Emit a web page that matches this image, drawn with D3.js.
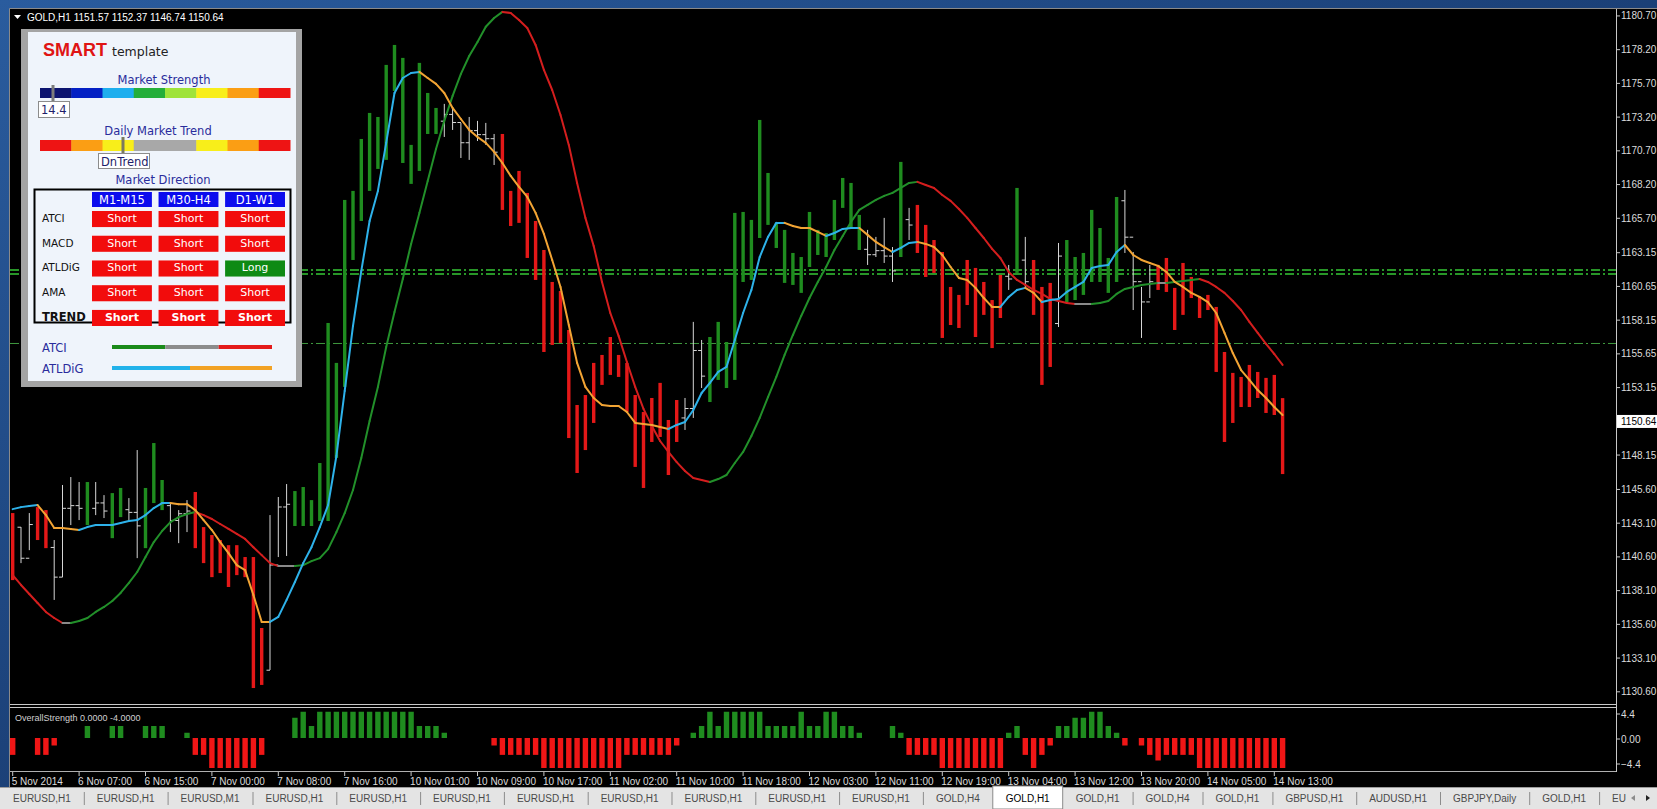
<!DOCTYPE html>
<meta charset="utf-8">
<style type="text/css">
    body { margin: 0; background: #000; overflow: hidden; }
    svg { display: block; }
    text { font-family: "Liberation Sans", Arial, sans-serif; }
    .panel text { font-family: "DejaVu Sans", Verdana, sans-serif; }
</style>
<body>
<script src="https://cdn.jsdelivr.net/npm/d3@7/dist/d3.min.js"></script>
<script>
// ---- price bars (GOLD H1), one entry per bar ----
var barHigh = [
    1143.85, 1142.81, 1143.85, 1144.29, 1144.07, 1141.85, 1145.93, 1146.52, 1146.15, 1146.15,
    1146.15, 1145.18, 1145.33, 1145.71, 1144.96, 1148.52, 1145.71, 1149.04, 1146.30, 1144.66,
    1144.07, 1144.81, 1145.41, 1142.81, 1142.22, 1141.85, 1141.47, 1141.47, 1140.59, 1140.59,
    1135.33, 1143.70, 1145.04, 1146.00, 1145.48, 1145.78, 1144.81, 1147.56, 1157.94, 1154.98,
    1167.06, 1167.73, 1171.58, 1173.51, 1173.21, 1177.07, 1178.55, 1177.59, 1171.14, 1177.22,
    1174.99, 1173.88, 1174.18, 1173.88, 1172.77, 1173.21, 1172.92, 1172.77, 1171.95, 1171.95,
    1167.73, 1169.21, 1167.58, 1165.50, 1163.35, 1160.98, 1160.31, 1157.42, 1151.86, 1152.60,
    1154.98, 1155.57, 1156.90, 1155.57, 1154.98, 1152.60, 1151.34, 1152.38, 1153.50, 1150.75,
    1152.23, 1152.38, 1158.02, 1156.68, 1156.90, 1158.02, 1156.53, 1166.10, 1166.17, 1165.58,
    1172.99, 1169.06, 1165.36, 1164.84, 1163.13, 1162.83, 1166.17, 1164.84, 1164.61, 1167.06,
    1168.69, 1168.32, 1165.95, 1164.84, 1164.32, 1165.73, 1163.57, 1169.88, 1166.47, 1166.69,
    1165.21, 1164.09, 1163.20, 1160.61, 1160.02, 1162.61, 1162.02, 1160.98, 1159.64, 1161.50,
    1162.24, 1167.95, 1164.32, 1162.61, 1160.61, 1160.91, 1163.87, 1164.09, 1162.83, 1163.13,
    1166.32, 1164.98, 1162.76, 1167.28, 1167.80, 1163.20, 1160.61, 1162.24, 1162.24, 1162.76,
    1160.54, 1162.39, 1161.35, 1159.87, 1160.02, 1159.13, 1155.79, 1154.24, 1153.94, 1154.83,
    1154.31, 1153.87, 1154.09, 1152.37
];
var barLow = [
    1138.88, 1140.14, 1141.10, 1141.85, 1141.25, 1137.41, 1139.10, 1142.96, 1143.33, 1142.96,
    1143.70, 1143.48, 1141.99, 1143.55, 1143.33, 1140.51, 1141.25, 1144.59, 1144.07, 1142.44,
    1141.62, 1142.44, 1141.25, 1140.14, 1139.10, 1139.40, 1138.37, 1139.25, 1139.10, 1130.88,
    1131.11, 1132.22, 1140.59, 1140.67, 1142.89, 1142.89, 1142.89, 1143.26, 1143.26, 1147.93,
    1153.20, 1162.61, 1165.50, 1167.73, 1169.36, 1170.03, 1175.14, 1169.80, 1168.25, 1169.21,
    1171.95, 1171.95, 1171.73, 1172.25, 1170.17, 1170.03, 1171.43, 1171.14, 1169.65, 1166.32,
    1165.13, 1165.36, 1162.76, 1161.13, 1155.79, 1156.31, 1156.46, 1149.41, 1146.82, 1148.52,
    1150.53, 1153.35, 1154.09, 1153.94, 1151.34, 1147.27, 1145.71, 1149.12, 1149.49, 1146.67,
    1149.12, 1150.01, 1150.90, 1153.12, 1152.08, 1153.72, 1153.12, 1153.72, 1160.98, 1161.13,
    1164.24, 1165.21, 1163.50, 1160.91, 1160.76, 1160.17, 1162.09, 1162.98, 1162.83, 1164.09,
    1166.47, 1164.98, 1163.35, 1162.24, 1162.83, 1162.39, 1160.98, 1162.83, 1164.09, 1163.13,
    1161.35, 1161.65, 1156.83, 1157.79, 1157.57, 1159.27, 1156.90, 1158.54, 1156.08, 1158.31,
    1160.39, 1161.65, 1160.61, 1158.54, 1153.35, 1154.68, 1157.64, 1159.49, 1159.64, 1160.02,
    1160.98, 1160.98, 1160.17, 1160.98, 1163.13, 1158.90, 1156.83, 1159.79, 1160.39, 1160.24,
    1157.42, 1158.54, 1159.79, 1158.31, 1158.90, 1154.31, 1149.12, 1150.53, 1151.71, 1151.71,
    1152.38, 1151.27, 1151.12, 1146.74
];
// G = green histogram bar, R = red histogram bar, W = plain white OHLC bar
var barColor = ("RWWRRWWWWGWWGGWWGGGWWW" + "RRRRRRRRR" + "WWW" + "GGGGGGGGGGGGGGGGGG" +
    "WWWWWWW" + "RRRRRRRRRRRRRRRRRRRRRR" + "WWW" + "GGGGGGGGGGGGGGGGGGG" + "WWWW" + "G" + "W" +
    "RRRRRRRRRRR" + "W" + "G" + "W" + "RRR" + "W" + "GGGGGGG" + "WWWW" + "RRRRRRRRRRRRRRRR").split("");

// open / close ticks of the white bars
var whiteIdx   = [1, 2, 5, 6, 7, 8, 10, 11, 14, 15, 19, 20, 21, 31, 32, 33, 52, 53, 54, 55, 56, 57, 58,
                  81, 82, 83, 103, 104, 105, 106, 108, 120, 122, 126, 134, 135, 136, 137];
var whiteOpen  = [1142.8, 1140.5, 1141.3, 1139.1, 1144.2, 1144.4, 1144.2, 1144.6, 1144.1, 1143.9, 1144.4, 1143.3, 1143.8,
                  1132.2, 1140.0, 1144.3, 1172.9, 1173.4, 1172.8, 1171.3, 1172.2, 1171.9, 1171.6,
                  1150.9, 1151.6, 1155.9, 1163.4, 1163.0, 1163.3, 1162.9, 1165.6, 1161.4, 1162.6, 1157.9,
                  1167.0, 1164.3, 1161.0, 1159.5];
var whiteClose = [1140.5, 1143.0, 1139.1, 1144.2, 1144.4, 1144.2, 1144.6, 1144.0, 1143.9, 1142.9, 1143.3, 1143.8, 1144.0,
                  1140.0, 1144.3, 1144.5, 1173.4, 1172.8, 1171.3, 1172.2, 1171.9, 1171.6, 1170.6,
                  1151.6, 1155.9, 1154.0, 1163.0, 1163.3, 1162.9, 1161.8, 1165.2, 1161.2, 1161.0, 1162.9,
                  1164.3, 1161.0, 1159.5, 1161.0];

// fast moving average (blue up / orange down)
var fastMA = [
    1144.14, 1144.29, 1144.37, 1144.44, 1143.70, 1142.74, 1142.74, 1142.67, 1142.59, 1142.81,
    1142.96, 1142.96, 1142.96, 1143.11, 1143.26, 1143.33, 1143.70, 1144.22, 1144.59, 1144.59,
    1144.51, 1144.51, 1144.07, 1143.33, 1142.59, 1141.70, 1140.88, 1139.99, 1139.62, 1137.78,
    1135.78, 1135.78, 1136.15, 1137.41, 1138.74, 1140.14, 1141.32, 1142.81, 1144.44, 1148.08,
    1152.90, 1157.72, 1161.80, 1165.50, 1167.73, 1171.29, 1174.99, 1176.10, 1176.47, 1176.55,
    1176.10, 1175.66, 1174.99, 1173.88, 1173.06, 1172.25, 1171.73, 1171.29, 1170.62, 1169.80,
    1168.84, 1168.03, 1167.28, 1166.10, 1164.54, 1162.61, 1160.61, 1157.79, 1154.98, 1153.20,
    1152.38, 1151.86, 1151.79, 1151.79, 1151.34, 1150.53, 1150.45, 1150.38, 1150.23, 1150.08,
    1150.38, 1150.60, 1151.49, 1152.75, 1153.50, 1154.31, 1154.68, 1156.68, 1158.68, 1160.39,
    1162.83, 1164.32, 1165.36, 1165.36, 1165.13, 1164.98, 1164.98, 1164.69, 1164.39, 1164.61,
    1164.91, 1164.98, 1164.98, 1164.47, 1163.95, 1163.57, 1163.20, 1163.50, 1163.87, 1163.95,
    1163.80, 1163.57, 1162.98, 1162.09, 1161.28, 1161.13, 1160.54, 1159.79, 1159.13, 1159.13,
    1159.87, 1160.39, 1160.54, 1160.17, 1159.49, 1159.64, 1159.72, 1160.24, 1160.61, 1160.98,
    1162.02, 1162.17, 1162.24, 1163.20, 1163.72, 1162.98, 1162.61, 1162.39, 1162.17, 1161.72,
    1160.98, 1160.61, 1160.17, 1159.87, 1159.49, 1158.68, 1157.20, 1155.71, 1154.45, 1153.72,
    1152.97, 1152.38, 1151.71, 1151.12
];
// slow moving average (green up / red down)
var slowMA = [
    1139.25, 1138.52, 1137.85, 1137.18, 1136.52, 1136.07, 1135.70, 1135.70, 1135.85, 1136.07,
    1136.52, 1136.89, 1137.33, 1137.93, 1138.67, 1139.48, 1140.59, 1141.70, 1142.52, 1143.18,
    1143.55, 1143.78, 1143.93, 1143.70, 1143.41, 1143.04, 1142.67, 1142.30, 1141.93, 1141.32,
    1140.73, 1140.14, 1139.92, 1139.92, 1139.92, 1139.99, 1140.29, 1140.51, 1141.18, 1142.44,
    1143.85, 1145.56, 1147.93, 1150.68, 1153.20, 1156.16, 1158.76, 1161.20, 1163.80, 1166.10,
    1168.47, 1170.84, 1172.92, 1174.77, 1176.40, 1177.73, 1178.77, 1179.90, 1180.55, 1181.00,
    1180.92, 1180.40, 1179.81, 1178.55, 1176.70, 1175.21, 1173.36, 1171.14, 1168.32, 1165.73,
    1163.65, 1160.98, 1158.68, 1156.98, 1155.05, 1153.20, 1151.57, 1150.31, 1149.19, 1148.38,
    1147.63, 1146.97, 1146.45, 1146.30, 1146.15, 1146.37, 1146.67, 1147.56, 1148.38, 1149.56,
    1150.90, 1152.45, 1153.94, 1155.57, 1157.05, 1158.46, 1159.79, 1160.98, 1162.09, 1163.35,
    1164.39, 1165.43, 1166.32, 1166.69, 1167.06, 1167.36, 1167.58, 1167.95, 1168.32, 1168.40,
    1168.17, 1167.95, 1167.43, 1166.99, 1166.39, 1165.73, 1164.98, 1164.24, 1163.43, 1162.76,
    1161.72, 1161.13, 1160.76, 1160.39, 1160.09, 1159.72, 1159.57, 1159.42, 1159.35, 1159.35,
    1159.35, 1159.42, 1159.57, 1160.09, 1160.46, 1160.61, 1160.76, 1160.83, 1160.91, 1160.91,
    1160.98, 1161.06, 1161.13, 1161.20, 1160.98, 1160.61, 1160.17, 1159.57, 1158.90, 1158.02,
    1157.20, 1156.39, 1155.64, 1154.83
];

// OverallStrength histogram, one value per bar
var strength = [
    -2.25, 0, 0, -2.25, -2.25, -1, 0, 0, 0, 1.6,
    0, 0, 1.6, 1.6, 0, 0, 1.6, 1.6, 1.6, 0,
    0, 0.7, -2.25, -2.25, -4, -4, -4, -4, -4, -4,
    -2.25, 0, 0, 0, 2.7, 3.5, 1.6, 3.5, 3.5, 3.5,
    3.5, 3.5, 3.5, 3.5, 3.5, 3.5, 3.5, 3.5, 3.5, 1.6,
    1.6, 1.6, 0.7, 0, 0, 0, 0, 0, -1, -2.25,
    -2.25, -2.25, -2.25, -2.25, -4, -4, -4, -4, -4, -4,
    -4, -4, -4, -4, -2.25, -2.25, -2.25, -2.25, -2.25, -2.25,
    -1, 0, 0.7, 1.6, 3.5, 1.6, 3.5, 3.5, 3.5, 3.5,
    3.5, 1.6, 1.6, 1.6, 1.6, 3.5, 1.6, 1.6, 3.5, 3.5,
    1.6, 1.6, 0.7, 0, 0, 0, 1.6, 0.7, -2.25, -2.25,
    -2.25, -2.25, -4, -4, -4, -4, -4, -4, -4, -4,
    0.7, 1.6, -2.25, -4, -2.25, -1, 1.6, 1.6, 2.7, 2.7,
    3.5, 3.5, 1.6, 0.7, -1, 0, -1, -2.25, -3, -2.25,
    -2.25, -2.25, -2.25, -4, -4, -4, -4, -4, -4, -4,
    -4, -4, -4, -4
];

// horizontal dash-dot levels
var levelPrices = [1161.87, 1161.57, 1156.42];

// axis labels
var priceTicks = [1180.70, 1178.20, 1175.70, 1173.20, 1170.70, 1168.20, 1165.70, 1163.15, 1160.65, 1158.15,
                  1155.65, 1153.15, 1148.15, 1145.60, 1143.10, 1140.60, 1138.10, 1135.60, 1133.10, 1130.60];
var lastPrice = 1150.64;
var timeBars = [0, 8, 16, 24, 32, 40, 48, 56, 64, 72, 80, 88, 96, 104, 112, 120, 128, 136, 144, 152];
var timeLabels = ["5 Nov 2014", "6 Nov 07:00", "6 Nov 15:00", "7 Nov 00:00", "7 Nov 08:00", "7 Nov 16:00",
                  "10 Nov 01:00", "10 Nov 09:00", "10 Nov 17:00", "11 Nov 02:00", "11 Nov 10:00", "11 Nov 18:00",
                  "12 Nov 03:00", "12 Nov 11:00", "12 Nov 19:00", "13 Nov 04:00", "13 Nov 12:00", "13 Nov 20:00",
                  "14 Nov 05:00", "14 Nov 13:00"];
var strengthTicks = [4.4, 0, -4.4];

// chart tabs
var tabs = ["EURUSD,H1", "EURUSD,H1", "EURUSD,M1", "EURUSD,H1", "EURUSD,H1", "EURUSD,H1", "EURUSD,H1",
            "EURUSD,H1", "EURUSD,H1", "EURUSD,H1", "EURUSD,H1", "GOLD,H4", "GOLD,H1", "GOLD,H1", "GOLD,H4",
            "GOLD,H1", "GBPUSD,H1", "AUDUSD,H1", "GBPJPY,Daily", "GOLD,H1", "EU"];
var activeTab = 12;

// SMART template panel
var strengthColors = ["#0c1470", "#0420c4", "#1eaeee", "#24ae3a", "#9fe33a", "#f8ee1a", "#fb9e14", "#ee1414"];
var trendColors    = ["#ee1414", "#fb9e14", "#f8ee1a", "#a8a8a8", "#a8a8a8", "#f8ee1a", "#fb9e14", "#ee1414"];
var marketStrength = "14.4";
var dailyTrend = "DnTrend";
var dirCols = ["M1-M15", "M30-H4", "D1-W1"];
var dirRows = ["ATCI", "MACD", "ATLDiG", "AMA", "TREND"];
var dirSignals = [
    ["Short", "Short", "Short"],
    ["Short", "Short", "Short"],
    ["Short", "Short", "Long"],
    ["Short", "Short", "Short"],
    ["Short", "Short", "Short"]
];
var atciLegend = ["#1a8a1a", "#8c8c8c", "#e41a1a"];
var atldigLegend = ["#22b2ea", "#f2a224"];

// ------------------------------------------------------------------
var W = 1657, H = 809;
var svg = d3.select("body").append("svg").attr("width", W).attr("height", H);

var defs = svg.append("defs");
var bg = defs.append("linearGradient").attr("id", "frame").attr("x1", 0).attr("y1", 0).attr("x2", 1).attr("y2", 1);
bg.append("stop").attr("offset", 0).attr("stop-color", "#2a5c9e");
bg.append("stop").attr("offset", 1).attr("stop-color", "#0c2450");
defs.append("clipPath").attr("id", "mainClip").append("rect")
    .attr("x", 10).attr("y", 10).attr("width", 1606).attr("height", 693);

svg.append("rect").attr("width", W).attr("height", H).attr("fill", "url(#frame)");
svg.append("rect").attr("x", 10).attr("y", 9).attr("width", W - 10).attr("height", 778).attr("fill", "#000");
svg.append("path").attr("d", "M9.5,787V8.5H1657").attr("fill", "none").attr("stroke", "#8a8a8a");

// scales
var x = d3.scaleLinear().domain([0, barHigh.length - 1]).range([12.7, 1282.6]);
var y = d3.scaleLinear().domain([1129.77, 1181.14]).range([703, 10]);
var ys = d3.scaleLinear().domain([-4, 4]).range([768, 708]);
var ysLabel = d3.scaleLinear().domain([-4.4, 4.4]).range([764, 714]);

var main = svg.append("g").attr("clip-path", "url(#mainClip)");

// dash-dot levels
main.selectAll("line.level").data(levelPrices).join("line")
    .attr("class", "level")
    .attr("x1", 10).attr("x2", 1616)
    .attr("y1", function(d) { return y(d); }).attr("y2", function(d) { return y(d); })
    .attr("stroke", function(d, i) { return i < 2 ? "#36c836" : "#3f9a3f"; })
    .attr("stroke-width", function(d, i) { return i < 2 ? 1.6 : 1; })
    .attr("stroke-dasharray", "9,3,2,3");

// bars
var bars = barHigh.map(function(h, i) { return {i: i, h: h, l: barLow[i], c: barColor[i]}; });
main.selectAll("line.wbar").data(bars.filter(function(d) { return d.c === "W"; })).join("line")
    .attr("class", "wbar")
    .attr("x1", function(d) { return x(d.i); }).attr("x2", function(d) { return x(d.i); })
    .attr("y1", function(d) { return y(d.h); }).attr("y2", function(d) { return y(d.l); })
    .attr("stroke", "#d6d6d6").attr("stroke-width", 1);
var ticks = whiteIdx.map(function(b, k) { return {i: b, o: whiteOpen[k], c: whiteClose[k]}; });
main.selectAll("line.otick").data(ticks).join("line")
    .attr("class", "otick")
    .attr("x1", function(d) { return x(d.i) - 3.5; }).attr("x2", function(d) { return x(d.i); })
    .attr("y1", function(d) { return y(d.o); }).attr("y2", function(d) { return y(d.o); })
    .attr("stroke", "#d6d6d6");
main.selectAll("line.ctick").data(ticks).join("line")
    .attr("class", "ctick")
    .attr("x1", function(d) { return x(d.i); }).attr("x2", function(d) { return x(d.i) + 3.5; })
    .attr("y1", function(d) { return y(d.c); }).attr("y2", function(d) { return y(d.c); })
    .attr("stroke", "#d6d6d6");
main.selectAll("rect.cbar").data(bars.filter(function(d) { return d.c !== "W"; })).join("rect")
    .attr("class", "cbar")
    .attr("x", function(d) { return x(d.i) - 1.7; })
    .attr("width", 3.4)
    .attr("y", function(d) { return y(d.h); })
    .attr("height", function(d) { return y(d.l) - y(d.h); })
    .attr("fill", function(d) { return d.c === "G" ? "#1f8c1f" : "#e41818"; });

// moving averages, coloured by slope
function segments(vals, up, down, flat, thr) {
    var out = [], prev = up;
    for (var i = 0; i < vals.length - 1; i++) {
        var d = vals[i + 1] - vals[i], col;
        if (d > thr) { col = up; prev = up; }
        else if (d < -thr) { col = down; prev = down; }
        else col = flat || prev;
        out.push({x1: x(i), y1: y(vals[i]), x2: x(i + 1), y2: y(vals[i + 1]), col: col});
    }
    return out;
}
function drawLine(segs, cls) {
    main.selectAll("line." + cls).data(segs).join("line")
        .attr("class", cls)
        .attr("x1", function(d) { return d.x1; }).attr("y1", function(d) { return d.y1; })
        .attr("x2", function(d) { return d.x2; }).attr("y2", function(d) { return d.y2; })
        .attr("stroke", function(d) { return d.col; })
        .attr("stroke-width", 2).attr("stroke-linecap", "round");
}
drawLine(segments(slowMA, "#22902a", "#d41e1e", "#8a8a8a", 0.05), "slow");
drawLine(segments(fastMA, "#2eb2ea", "#f2a434", null, 0.03), "fast");

// header
svg.append("path").attr("d", "M14,15h7l-3.5,4z").attr("fill", "#fff");
svg.append("text").attr("x", 27).attr("y", 21).attr("fill", "#fff").style("font-size", "10px")
    .text("GOLD,H1  1151.57 1152.37 1146.74 1150.64");

// separator main / indicator
svg.append("line").attr("x1", 10).attr("x2", 1616).attr("y1", 704.5).attr("y2", 704.5).attr("stroke", "#c8c8c8");
svg.append("line").attr("x1", 10).attr("x2", 1616).attr("y1", 707.5).attr("y2", 707.5).attr("stroke", "#c8c8c8");
svg.append("line").attr("x1", 10).attr("x2", 1616).attr("y1", 771.5).attr("y2", 771.5).attr("stroke", "#b0b0b0");
svg.append("line").attr("x1", 1616.5).attr("x2", 1616.5).attr("y1", 9).attr("y2", 772).attr("stroke", "#c8c8c8");

// price axis
var pAxis = svg.append("g");
pAxis.selectAll("line").data(priceTicks).join("line")
    .attr("x1", 1616).attr("x2", 1620)
    .attr("y1", function(d) { return Math.min(y(d), 700); }).attr("y2", function(d) { return Math.min(y(d), 700); })
    .attr("stroke", "#c8c8c8");
pAxis.selectAll("text").data(priceTicks).join("text")
    .attr("x", 1621).attr("y", function(d) { return Math.min(y(d), 700) + 3.5; })
    .attr("fill", "#dcdcdc").style("font-size", "10px")
    .text(function(d) { return d.toFixed(2); });
svg.append("rect").attr("x", 1617).attr("y", y(lastPrice) - 6.5).attr("width", 40).attr("height", 13).attr("fill", "#fff");
svg.append("text").attr("x", 1621).attr("y", y(lastPrice) + 3.5).attr("fill", "#000").style("font-size", "10px")
    .text(lastPrice.toFixed(2));

// indicator window
svg.append("text").attr("x", 15).attr("y", 721).attr("fill", "#d0d0d0").style("font-size", "9px")
    .text("OverallStrength 0.0000 -4.0000");
svg.append("g").selectAll("rect").data(strength).join("rect")
    .attr("x", function(d, i) { return x(i) - 2.7; })
    .attr("width", 5.4)
    .attr("y", function(d) { return Math.min(ys(0), ys(d)); })
    .attr("height", function(d) { return Math.abs(ys(d) - ys(0)); })
    .attr("fill", function(d) { return d > 0 ? "#1f8c1f" : "#f01616"; });
var sAxis = svg.append("g");
sAxis.selectAll("line").data(strengthTicks).join("line")
    .attr("x1", 1616).attr("x2", 1620)
    .attr("y1", function(d) { return ysLabel(d); }).attr("y2", function(d) { return ysLabel(d); })
    .attr("stroke", "#c8c8c8");
sAxis.selectAll("text").data(strengthTicks).join("text")
    .attr("x", 1621).attr("y", function(d) { return ysLabel(d) + 3.5; })
    .attr("fill", "#dcdcdc").style("font-size", "10px")
    .text(function(d) { return d === 0 ? "0.00" : d3.format(".1f")(d); });

// time axis
var tAxis = svg.append("g");
tAxis.selectAll("line").data(timeBars).join("line")
    .attr("x1", function(d) { return x(d); }).attr("x2", function(d) { return x(d); })
    .attr("y1", 772).attr("y2", 776).attr("stroke", "#c8c8c8");
tAxis.selectAll("text").data(timeBars).join("text")
    .attr("x", function(d) { return x(d) - 1; }).attr("y", 785)
    .attr("fill", "#dcdcdc").style("font-size", "10px")
    .text(function(d, i) { return timeLabels[i]; });

// tab strip
svg.append("rect").attr("x", 0).attr("y", 787).attr("width", W).attr("height", 22).attr("fill", "#e4e4e4");
svg.append("line").attr("x1", 0).attr("x2", W).attr("y1", 787.5).attr("y2", 787.5).attr("stroke", "#9c9c9c");
var tabG = svg.append("g");
var tx = 0;
tabs.forEach(function(name, i) {
    var t = tabG.append("text").attr("y", 802).style("font-size", "10px")
        .attr("fill", i === activeTab ? "#000" : "#4a4a4a").text(name);
    var w = t.node().getComputedTextLength() + 26;
    if (i === activeTab) {
        tabG.insert("rect", "text").attr("x", tx).attr("y", 786).attr("width", w).attr("height", 23)
            .attr("fill", "#fff").attr("stroke", "#8a8a8a");
    }
    t.attr("x", tx + w / 2).attr("text-anchor", "middle");
    if (i !== activeTab && i + 1 !== activeTab && i < tabs.length - 1) {
        tabG.append("line").attr("x1", tx + w + 0.5).attr("x2", tx + w + 0.5).attr("y1", 792).attr("y2", 805)
            .attr("stroke", "#8c8c8c");
    }
    tx += w;
});
tabG.append("rect").attr("x", 1628).attr("y", 788).attr("width", 29).attr("height", 21).attr("fill", "#e4e4e4");
tabG.append("path").attr("d", "M1631,798l4,-3v6z").attr("fill", "#8c8c8c");
tabG.append("path").attr("d", "M1650,798l-4,-3v6z").attr("fill", "#222");

// ---- SMART template panel ----
var p = svg.append("g").attr("class", "panel");
p.append("rect").attr("x", 21).attr("y", 29).attr("width", 281).attr("height", 358).attr("fill", "#a4a4a4");
p.append("rect").attr("x", 28).attr("y", 32).attr("width", 268).attr("height", 349).attr("fill", "#eff4fb");

p.append("text").attr("x", 43).attr("y", 56).attr("fill", "#e01414")
    .style("font-family", "Liberation Sans, Arial, sans-serif").style("font-weight", "bold").style("font-size", "18px")
    .text("SMART");
p.append("text").attr("x", 112).attr("y", 56).attr("fill", "#222").style("font-size", "12.5px").text("template");

function title(txt, cx, by) {
    p.append("text").attr("x", cx).attr("y", by).attr("text-anchor", "middle")
        .attr("fill", "#2a2c9c").style("font-size", "11.5px").text(txt);
}
title("Market Strength", 164, 84);
title("Daily Market Trend", 158, 135);
title("Market Direction", 163, 184);

var segX = d3.scaleBand().domain(d3.range(8)).range([40, 290]);
p.selectAll("rect.ms").data(strengthColors).join("rect").attr("class", "ms")
    .attr("x", function(d, i) { return segX(i); }).attr("width", segX.bandwidth() + 0.5)
    .attr("y", 88).attr("height", 10).attr("fill", function(d) { return d; });
p.selectAll("rect.dt").data(trendColors).join("rect").attr("class", "dt")
    .attr("x", function(d, i) { return segX(i); }).attr("width", segX.bandwidth() + 0.5)
    .attr("y", 140).attr("height", 11).attr("fill", function(d) { return d; });
p.append("rect").attr("x", 51.5).attr("y", 85).attr("width", 3).attr("height", 17).attr("fill", "#7c7c7c");
p.append("rect").attr("x", 121.5).attr("y", 137).attr("width", 3).attr("height", 17).attr("fill", "#7a7a5e");
p.append("rect").attr("x", 38.5).attr("y", 101.5).attr("width", 31).attr("height", 16)
    .attr("fill", "#fff").attr("stroke", "#8c8c8c");
p.append("text").attr("x", 41).attr("y", 114).attr("fill", "#1e1e6a").style("font-size", "11.5px").text(marketStrength);
p.append("rect").attr("x", 98.5).attr("y", 153.5).attr("width", 51).attr("height", 15)
    .attr("fill", "#fff").attr("stroke", "#8c8c8c");
p.append("text").attr("x", 101).attr("y", 165.5).attr("fill", "#1e1e6a").style("font-size", "11.5px").text(dailyTrend);

// direction table
p.append("rect").attr("x", 34.5).attr("y", 189.5).attr("width", 256).attr("height", 133)
    .attr("fill", "none").attr("stroke", "#000").attr("stroke-width", 2);
var colX = d3.scaleBand().domain(dirCols).range([92, 285]).paddingInner(0.1);
var rowY = d3.scaleBand().domain(dirRows).range([211, 326]).paddingInner(0.35);
p.selectAll("rect.hd").data(dirCols).join("rect").attr("class", "hd")
    .attr("x", function(d) { return colX(d); }).attr("width", colX.bandwidth())
    .attr("y", 192).attr("height", 15).attr("fill", "#0c0cee");
p.selectAll("text.hd").data(dirCols).join("text").attr("class", "hd")
    .attr("x", function(d) { return colX(d) + colX.bandwidth() / 2; }).attr("y", 204)
    .attr("text-anchor", "middle").attr("fill", "#fff").style("font-size", "11.5px")
    .text(function(d) { return d; });
p.selectAll("text.rl").data(dirRows).join("text").attr("class", "rl")
    .attr("x", 42).attr("y", function(d) { return rowY(d) + 11; })
    .attr("fill", "#111")
    .style("font-size", function(d) { return d === "TREND" ? "11.5px" : "10.5px"; })
    .style("font-weight", function(d) { return d === "TREND" ? "bold" : "normal"; })
    .text(function(d) { return d; });
var cells = [];
dirSignals.forEach(function(row, r) {
    row.forEach(function(s, c) { cells.push({r: dirRows[r], c: dirCols[c], s: s}); });
});
p.selectAll("rect.cell").data(cells).join("rect").attr("class", "cell")
    .attr("x", function(d) { return colX(d.c); }).attr("width", colX.bandwidth())
    .attr("y", function(d) { return rowY(d.r); }).attr("height", rowY.bandwidth())
    .attr("fill", function(d) { return d.s === "Long" ? "#0e8a14" : "#f20c0c"; });
p.selectAll("text.cell").data(cells).join("text").attr("class", "cell")
    .attr("x", function(d) { return colX(d.c) + colX.bandwidth() / 2; })
    .attr("y", function(d) { return rowY(d.r) + 11; })
    .attr("text-anchor", "middle").attr("fill", "#fff")
    .style("font-size", "11px")
    .style("font-weight", function(d) { return d.r === "TREND" ? "bold" : "normal"; })
    .text(function(d) { return d.s; });

// legend lines
p.append("text").attr("x", 42).attr("y", 352).attr("fill", "#2a2c9c").style("font-size", "11.5px").text("ATCI");
p.append("text").attr("x", 42).attr("y", 373).attr("fill", "#2a2c9c").style("font-size", "11.5px").text("ATLDiG");
var l1 = d3.scaleBand().domain(d3.range(atciLegend.length)).range([112, 272]);
p.selectAll("rect.l1").data(atciLegend).join("rect").attr("class", "l1")
    .attr("x", function(d, i) { return l1(i); }).attr("width", l1.bandwidth())
    .attr("y", 345).attr("height", 4).attr("fill", function(d) { return d; });
var l2 = d3.scaleLinear().domain([0, 1, 2]).range([112, 190, 272]);
p.selectAll("rect.l2").data(atldigLegend).join("rect").attr("class", "l2")
    .attr("x", function(d, i) { return l2(i); }).attr("width", function(d, i) { return l2(i + 1) - l2(i); })
    .attr("y", 366).attr("height", 4).attr("fill", function(d) { return d; });
</script>
</body>
